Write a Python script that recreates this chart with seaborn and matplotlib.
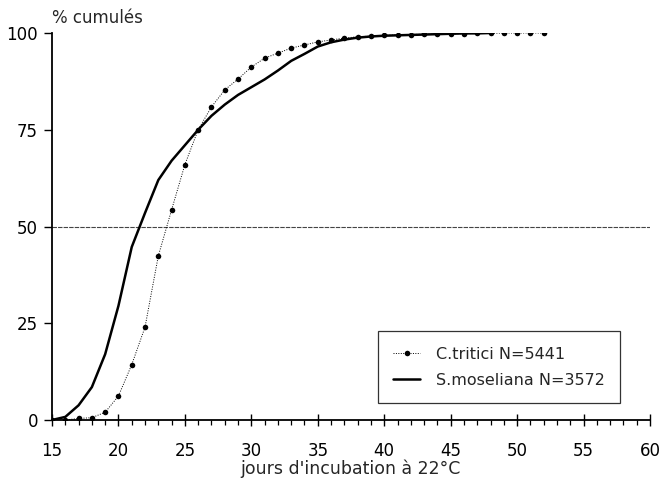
import numpy as np
import pandas as pd
import matplotlib
matplotlib.use("Agg")
import matplotlib.pyplot as plt
import seaborn as sns
from matplotlib.ticker import MultipleLocator

# jours d'incubation et % cumulés
jours_tritici = list(range(15, 53))
pct_tritici = [0, 0, 0.4, 0.6, 2, 6.2, 14.3, 24, 42.4, 54.3, 66, 75, 80.9, 85.3,
               88.1, 91.2, 93.5, 94.8, 96.1, 96.9, 97.7, 98.2, 98.7, 99.0, 99.2,
               99.4, 99.5, 99.6, 99.7, 99.7, 99.8, 99.8, 99.9, 99.9, 100, 100, 100, 100]

jours_moseliana = list(range(15, 49))
pct_moseliana = [0, 0.8, 3.8, 8.5, 17, 29.5, 44.7, 53.5, 62, 67, 71, 75, 78.6,
                 81.5, 84, 86, 88, 90.3, 92.8, 94.6, 96.5, 97.6, 98.3, 98.8,
                 99.1, 99.3, 99.4, 99.5, 99.6, 99.7, 99.8, 99.9, 99.9, 100]

label_tritici = "C.tritici N=5441"
label_moseliana = "S.moseliana N=3572"

sns.set_style("ticks")
plt.rcParams['font.family'] = ['DejaVu Sans']

fig = plt.figure(figsize=(6.62, 4.79), dpi=100)
ax = fig.add_axes([52/662, 59/479, 598/662, 387/479])

ax.axhline(50, color="#444444", lw=0.8, ls=(0, (4, 1)), zorder=1)

sns.lineplot(x=jours_tritici, y=pct_tritici, ax=ax, color="black", lw=0.7,
             linestyle=(0, (1, 1.5)), marker="o", markersize=4,
             markeredgewidth=0, label=label_tritici)
sns.lineplot(x=jours_moseliana, y=pct_moseliana, ax=ax, color="black", lw=1.8,
             label=label_moseliana)

ax.set_xlim(15, 60)
ax.set_ylim(0, 100)
ax.set_xticks(range(15, 61, 5))
ax.xaxis.set_minor_locator(MultipleLocator(1))
ax.set_yticks([0, 25, 50, 75, 100])

sns.despine(ax=ax)
for side in ['left', 'bottom']:
    ax.spines[side].set_linewidth(1.3)
    ax.spines[side].set_color("black")

ax.tick_params(axis='x', which='major', direction='inout', length=8.6, width=1,
               labelsize=12, pad=11.5, colors="black")
ax.tick_params(axis='x', which='minor', direction='out', length=3.6, width=0.9,
               colors="black")
ax.tick_params(axis='y', which='major', direction='out', length=6, width=1,
               labelsize=12, pad=4, colors="black")

ax.set_xlabel("jours d'incubation à 22°C", fontsize=12.5, va="top")
ax.xaxis.set_label_coords(0.5, (420 - 460) / 387)
ax.set_ylabel("")

fig.text(52/662, 1 - 18/479, "% cumulés", fontsize=12, va="center", ha="left")

leg = ax.legend(loc="lower left", bbox_to_anchor=(0.545, 0.044), fontsize=11.5,
                borderaxespad=0, frameon=True, fancybox=False,
                edgecolor="black", borderpad=0.95, labelspacing=0.7,
                handlelength=1.7, handletextpad=1.0)
leg.get_frame().set_linewidth(0.9)

fig.savefig("out.png", dpi=100)
